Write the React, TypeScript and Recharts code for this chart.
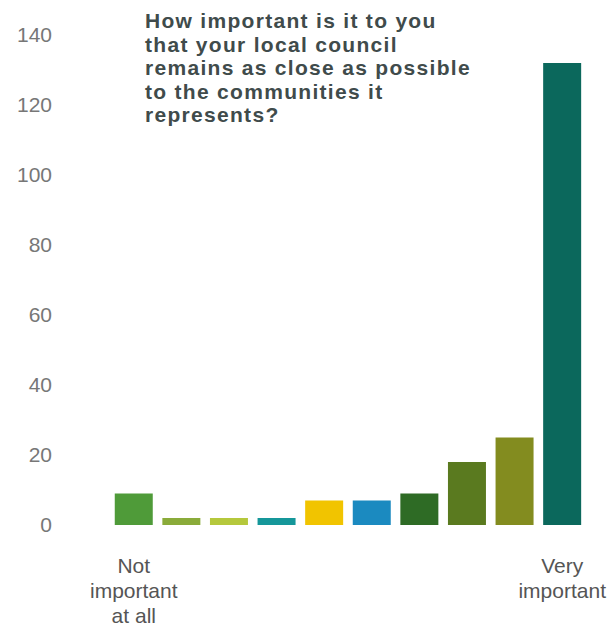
import { BarChart, Bar, XAxis, YAxis, Cell } from "recharts";

// scale 1 (not important at all) .. 10 (very important)
const categories = ["1", "2", "3", "4", "5", "6", "7", "8", "9", "10"];
const responses = [9, 2, 2, 2, 7, 7, 9, 18, 25, 132];
const barColors = [
  "#4f9b39",
  "#8aab3a",
  "#b5c83c",
  "#15979a",
  "#f1c400",
  "#1b8ac0",
  "#2e6b25",
  "#5a7a1f",
  "#838c1f",
  "#0b685c",
];
const tickLabels: string[][] = [
  ["Not", "important", "at all"],
  [],
  [],
  [],
  [],
  [],
  [],
  [],
  [],
  ["Very", "important"],
];
const yTicks = [0, 20, 40, 60, 80, 100, 120, 140];
const titleLines = [
  "How important is it to you",
  "that your local council",
  "remains as close as possible",
  "to the communities it",
  "represents?",
];

const chartData = categories.map((c, i) => ({ category: c, count: responses[i] }));

const CategoryTick = (props: any) => {
  const { x, y, index } = props;
  const lines = tickLabels[index] || [];
  return (
    <text x={x} y={y + 40} textAnchor="middle" fill="#555" fontSize={21} fontFamily="Liberation Sans, Arial, sans-serif">
      {lines.map((line, i) => (
        <tspan key={i} x={x} dy={i === 0 ? 0 : 25}>
          {line}
        </tspan>
      ))}
    </text>
  );
};

export default function App() {
  return (
    <div style={{ position: "absolute", left: 0, top: 0, width: 615, height: 632, background: "#fff" }}>
      <BarChart width={615} height={632} data={chartData} margin={{ top: 35, right: 0, bottom: 0, left: 0 }}>
        <YAxis
          domain={[0, 140]}
          ticks={yTicks}
          width={60}
          axisLine={false}
          tickLine={false}
          tick={{ fill: "#777", fontSize: 21, fontFamily: "Liberation Sans, Arial, sans-serif" }}
        />
        <XAxis
          dataKey="category"
          height={107}
          axisLine={false}
          tickLine={false}
          interval={0}
          padding={{ left: 50, right: 29 }}
          tick={<CategoryTick />}
        />
        <Bar dataKey="count" isAnimationActive={false}>
          {chartData.map((entry, index) => (
            <Cell key={`cell-${index}`} fill={barColors[index]} />
          ))}
        </Bar>
      </BarChart>
      <div
        style={{
          position: "absolute",
          left: 145,
          top: 9,
          fontFamily: "Liberation Sans, Arial, sans-serif",
          fontWeight: "bold",
          fontSize: 21,
          lineHeight: "23.5px",
          letterSpacing: 1.3,
          color: "#404b4b",
          whiteSpace: "nowrap",
        }}
      >
        {titleLines.map((line, i) => (
          <div key={i}>{line}</div>
        ))}
      </div>
    </div>
  );
}
